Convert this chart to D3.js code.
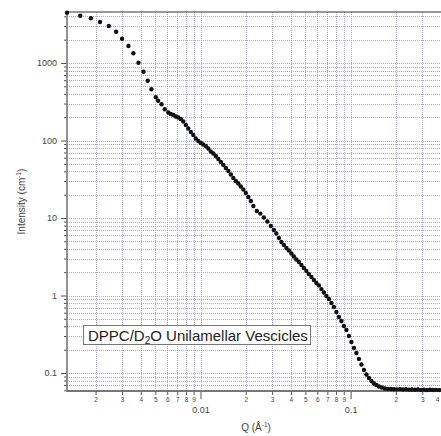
<!DOCTYPE html>
<html>
<head>
<meta charset="utf-8">
<script src="https://cdn.jsdelivr.net/npm/d3@7"></script>
<style>
  body { margin: 0; background: #fff; }
  svg { display: block; font-family: 'Liberation Sans', Arial, sans-serif; }
</style>
</head>
<body>
<svg id="chart" width="441" height="436"></svg>
<script>

// scattering vector Q (1/A) and intensity (1/cm)
const qValues = [
    0.00129, 0.00158, 0.00186, 0.00214, 0.00245, 0.00274, 0.00300, 0.00331, 0.00357, 0.00386,
    0.00417, 0.00445, 0.00471, 0.00504, 0.00522, 0.00550, 0.00578,
    0.00610, 0.00634, 0.00659, 0.00685, 0.00711, 0.00739, 0.00768, 0.00798, 0.00829, 0.00862,
    0.00895, 0.00930, 0.00967, 0.01005, 0.01044, 0.01085, 0.01127, 0.01171, 0.01217, 0.01265,
    0.01314, 0.01366, 0.01419, 0.01475, 0.01532, 0.01592, 0.01654, 0.01719, 0.01786, 0.01856,
    0.01929, 0.02004, 0.02083, 0.02164, 0.02249,
    0.02373, 0.02505, 0.02642, 0.02788, 0.02942,
    0.03081, 0.03201, 0.03327, 0.03457, 0.03592, 0.03733, 0.03878, 0.04030, 0.04188, 0.04352,
    0.04522, 0.04699, 0.04883, 0.05074, 0.05272, 0.05479, 0.05693, 0.05916, 0.06147, 0.06388,
    0.06637, 0.06897, 0.07167, 0.07447, 0.07739, 0.08041, 0.08356, 0.08683, 0.09022, 0.09376,
    0.09743, 0.1012, 0.1052, 0.1093, 0.1136, 0.1180, 0.1227, 0.1275, 0.1324, 0.1376,
    0.1430, 0.1486, 0.1544, 0.1617, 0.1693, 0.1773,
    0.1856, 0.1944, 0.2035, 0.2131, 0.2231, 0.2336, 0.2446, 0.2561, 0.2681, 0.2807,
    0.2939, 0.3077, 0.3222, 0.3373, 0.3532, 0.3698, 0.3872, 0.4054
]

const intensityValues = [
    4460, 4075, 3774, 3381, 3000, 2535, 2058, 1656, 1334, 1009,
    772, 591, 458, 361, 326, 293, 253,
    229.8, 219.8, 213.3, 204.0, 198.1, 189.5, 175.9, 158.5, 142.8, 128.8,
    117.8, 106.1, 98.5, 92.8, 88.8, 84.9, 78.9, 72.1, 68.0, 63.1,
    57.7, 52.8, 48.3, 44.2, 40.4, 36.4, 32.8, 30.0, 27.9, 25.5,
    23.3, 21.0, 18.7, 16.6, 14.3,
    12.3, 11.4, 10.15, 9.01, 7.88,
    7.00, 6.31, 5.52, 4.90, 4.48, 4.10, 3.81, 3.48, 3.19, 2.91,
    2.71, 2.47, 2.26, 2.07, 1.89, 1.73, 1.585, 1.45, 1.35, 1.21,
    1.093, 0.985, 0.901, 0.800, 0.711, 0.612, 0.528, 0.469, 0.404, 0.359,
    0.300, 0.251, 0.210, 0.181, 0.152, 0.1287, 0.1093, 0.0956, 0.0862, 0.0788,
    0.0732, 0.0700, 0.0670, 0.0650, 0.0631, 0.0622,
    0.0622, 0.0618, 0.0615, 0.0620, 0.0612, 0.0616, 0.0610, 0.0614, 0.0608, 0.0612,
    0.0606, 0.0610, 0.0604, 0.0608, 0.0603, 0.0606, 0.0602, 0.0604
]

const xMajorTicks = [0.01, 0.1]
const xMajorLabels = ['0.01', '0.1']
const yMajorTicks = [0.1, 1, 10, 100, 1000]
const yMajorLabels = ['0.1', '1', '10', '100', '1000']

const xDomain = [0.00129, 0.4]
const yDomain = [0.0586, 4550]

const legendText = ['DPPC/D', '2', 'O Unilamellar Vescicles']

const plotL = 67, plotR = 441, plotT = 12, plotB = 391

const svg = d3.select('#chart')

const x = d3.scaleLog().domain(xDomain).range([plotL, plotR])
const y = d3.scaleLog().domain(yDomain).range([plotB, plotT])

const xAll = x.ticks().filter(t => t >= xDomain[0] && t <= xDomain[1])
const yAll = y.ticks().filter(t => t >= yDomain[0] && t <= yDomain[1])
const isMajor = (list, t) => list.some(m => Math.abs(m - t) / m < 1e-6)
const xMinor = xAll.filter(t => !isMajor(xMajorTicks, t))
const yMinor = yAll.filter(t => !isMajor(yMajorTicks, t))

// dotted grid
const grid = svg.append('g').attr('class', 'grid')
grid.selectAll('line.vx').data(xAll).enter().append('line')
    .attr('x1', d => Math.round(x(d)) + 0.5).attr('x2', d => Math.round(x(d)) + 0.5)
    .attr('y1', plotT).attr('y2', plotB)
grid.selectAll('line.hy').data(yAll).enter().append('line')
    .attr('y1', d => Math.round(y(d)) + 0.5).attr('y2', d => Math.round(y(d)) + 0.5)
    .attr('x1', plotL).attr('x2', plotR)
grid.selectAll('line')
    .attr('stroke', '#9494d4').attr('stroke-width', 1)
    .attr('stroke-dasharray', '1,1').attr('stroke-opacity', 0.8)

// frame
svg.append('line').attr('x1', plotL).attr('x2', plotR).attr('y1', plotT).attr('y2', plotT)
    .attr('stroke', '#333').attr('stroke-width', 1.2)

// left axis
const yMinorAxis = d3.axisLeft(y).tickValues(yMinor).tickSize(3).tickFormat('')
const yMajorAxis = d3.axisLeft(y).tickValues(yMajorTicks).tickSize(6)
    .tickFormat((d, i) => yMajorLabels[i])

const gyMinor = svg.append('g').attr('transform', `translate(${plotL},0)`).call(yMinorAxis)
const gyMajor = svg.append('g').attr('transform', `translate(${plotL},0)`).call(yMajorAxis)

// bottom axis
const xMinorAxis = d3.axisBottom(x).tickValues(xMinor).tickSize(4)
    .tickFormat(d => String(Math.round(d / Math.pow(10, Math.floor(Math.log10(d) + 1e-9)))))
const xMajorAxis = d3.axisBottom(x).tickValues(xMajorTicks).tickSize(8)
    .tickFormat((d, i) => xMajorLabels[i])

const gxMinor = svg.append('g').attr('transform', `translate(0,${plotB})`).call(xMinorAxis)
const gxMajor = svg.append('g').attr('transform', `translate(0,${plotB})`).call(xMajorAxis)

svg.selectAll('.domain').remove()
svg.selectAll('.tick line').attr('stroke', '#555')

gyMajor.selectAll('.tick text').attr('x', -10).attr('font-size', 9).attr('fill', '#444').attr('font-family', null)
gxMinor.selectAll('.tick text').attr('y', 6).attr('font-size', 6.5).attr('fill', '#444').attr('font-family', null)
gxMajor.selectAll('.tick text').attr('y', 16).attr('font-size', 9).attr('fill', '#444').attr('font-family', null)

// keep the last minor label inside the picture
gxMinor.selectAll('.tick text').filter(d => x(d) > plotR - 4).attr('dx', -4)

// axis lines
svg.append('line').attr('x1', plotL).attr('x2', plotL).attr('y1', plotT).attr('y2', plotB + 1)
    .attr('stroke', '#777').attr('stroke-width', 1.6)
svg.append('line').attr('x1', plotL).attr('x2', plotR).attr('y1', plotB).attr('y2', plotB)
    .attr('stroke', '#777').attr('stroke-width', 2)

// axis titles
const xTitle = svg.append('text').attr('x', (plotL + plotR) / 2 + 2).attr('y', 431)
    .attr('text-anchor', 'middle').attr('font-size', 10).attr('fill', '#444')
xTitle.append('tspan').text('Q (Å')
xTitle.append('tspan').text('-1').attr('font-size', 6.5).attr('dy', -4)
xTitle.append('tspan').text(')').attr('dy', 4)

const yTitle = svg.append('text')
    .attr('transform', `translate(25,${(plotT + plotB) / 2}) rotate(-90)`)
    .attr('text-anchor', 'middle').attr('font-size', 10).attr('fill', '#444')
yTitle.append('tspan').text('Intensity (cm')
yTitle.append('tspan').text('-1').attr('font-size', 6.5).attr('dy', -4)
yTitle.append('tspan').text(')').attr('dy', 4)

// data markers with small error bars
const points = qValues.map((q, i) => ({ q: q, v: intensityValues[i] }))
const pts = svg.append('g').attr('id', 'points')

pts.selectAll('line').data(points).enter()
    .append('line')
    .attr('x1', d => x(d.q)).attr('x2', d => x(d.q))
    .attr('y1', d => y(d.v * 1.05)).attr('y2', d => y(d.v / 1.05))
    .attr('stroke', '#222').attr('stroke-width', 1)

pts.selectAll('circle').data(points).enter()
    .append('circle')
    .attr('cx', d => x(d.q))
    .attr('cy', d => y(d.v))
    .attr('r', 2.2)
    .attr('fill', '#111')

// legend box
const legend = svg.append('g').attr('id', 'legend')
legend.append('rect').attr('x', 83.5).attr('y', 325.5).attr('width', 227).attr('height', 19)
    .attr('fill', '#fff').attr('stroke', '#777').attr('stroke-width', 1)
const lt = legend.append('text').attr('x', 88).attr('y', 341).attr('font-size', 15).attr('fill', '#222')
lt.append('tspan').text(legendText[0])
lt.append('tspan').text(legendText[1]).attr('font-size', 10).attr('dy', 3)
lt.append('tspan').text(legendText[2]).attr('dy', -3)

</script>
</body>
</html>
